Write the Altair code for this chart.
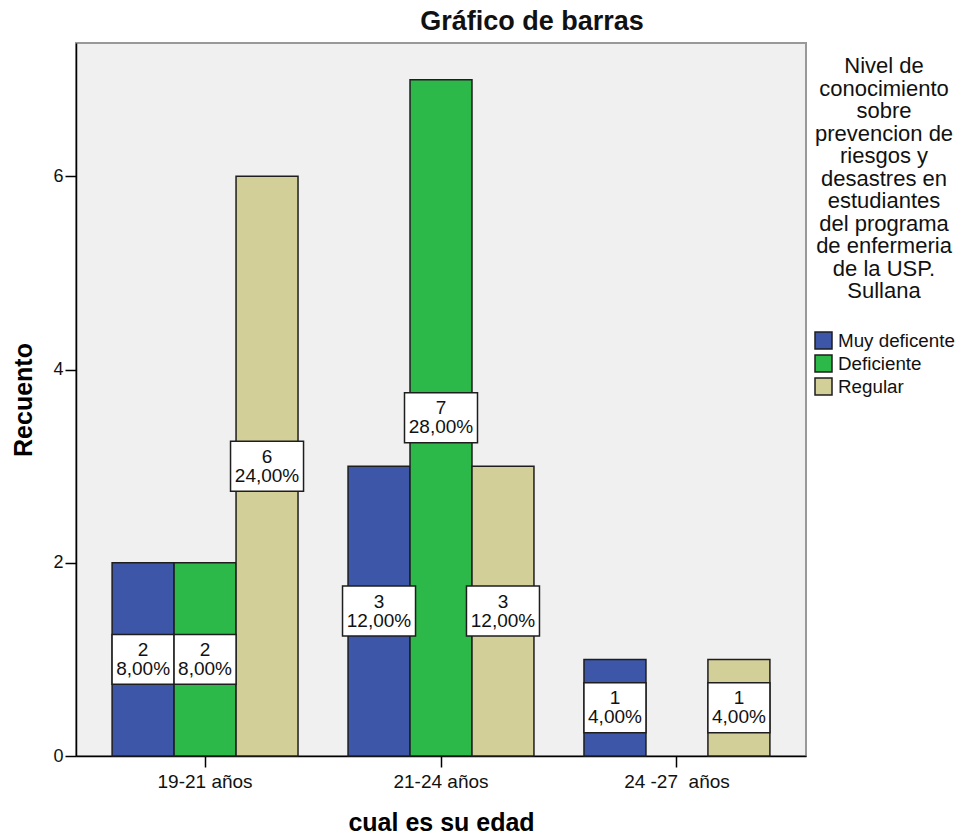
import altair as alt
import pandas as pd

edades = ["19-21 años", "21-24 años", "24 -27\u00a0 años"]
niveles = ["Muy deficente", "Deficiente", "Regular"]
muy_deficente = [2, 3, 1]
deficiente = [2, 7, 0]
regular = [6, 3, 1]
colores = ["#3D56A8", "#2DB84A", "#D3CF98"]
leyenda_titulo = ["Nivel de", "conocimiento", "sobre", "prevencion de", "riesgos y",
                  "desastres en", "estudiantes", "del programa", "de enfermeria",
                  "de la USP.", "Sullana"]

series = [muy_deficente, deficiente, regular]
total = sum(sum(s) for s in series)
rows = []
for i, edad in enumerate(edades):
    for j, nivel in enumerate(niveles):
        n = series[j][i]
        if n == 0:
            continue
        pct = f"{n / total * 100:.2f}".replace(".", ",") + "%"
        rows.append({"edad": edad, "nivel": nivel, "n": n,
                     "label": f"{n}\n{pct}", "wide": len(pct) > 5})
df = pd.DataFrame(rows)

FONT = "Liberation Sans"

base = alt.Chart(df).encode(
    x=alt.X("edad:N", sort=edades,
            scale=alt.Scale(domain=edades, paddingInner=0.212, paddingOuter=0.153),
            axis=alt.Axis(title="cual es su edad", labelAngle=0, labelFontSize=19,
                          labelFont=FONT, labelColor="#111", labelPadding=5,
                          tickSize=11, tickColor="black", tickWidth=1.5,
                          domainColor="black", domainWidth=1.5,
                          titleFontSize=25, titleFont=FONT, titleFontWeight="bold",
                          titleColor="black", titlePadding=19)),
    xOffset=alt.XOffset("nivel:N", scale=alt.Scale(domain=niveles, paddingInner=0, paddingOuter=0)),
)

yscale = alt.Scale(domain=[0, 7.38], nice=False, zero=True)
yaxis = alt.Axis(values=[0, 2, 4, 6], grid=False, title="Recuento",
                 labelFontSize=18, labelFont=FONT, labelColor="#111", labelPadding=2,
                 tickSize=11, tickColor="black", tickWidth=1.5,
                 domainColor="black", domainWidth=1.5,
                 titleFontSize=25, titleFont=FONT, titleFontWeight="bold",
                 titleColor="black", titlePadding=16)

bars = base.mark_bar(stroke="#1e1e1e", strokeWidth=1.5).encode(
    y=alt.Y("n:Q", scale=yscale, axis=yaxis),
    color=alt.Color("nivel:N", scale=alt.Scale(domain=niveles, range=colores),
                    legend=alt.Legend(title=leyenda_titulo, orient="none", legendX=738, legendY=13,
                                      titleAnchor="middle", titleAlign="center",
                                      titleFontSize=22, titleFont=FONT, titleFontWeight="normal",
                                      titleColor="#111", titleLineHeight=22.5, titlePadding=28,
                                      titleLimit=1000, labelLimit=1000,
                                      labelFontSize=18.8, labelFont=FONT, labelColor="#111",
                                      symbolType="square", symbolSize=289,
                                      symbolStrokeColor="#1e1e1e", symbolStrokeWidth=1.5,
                                      rowPadding=0, labelOffset=5,
                                      padding=0)),
)

NARROW = "M-1,-0.806L1,-0.806L1,0.806L-1,0.806Z"
WIDE = "M-1,-0.685L1,-0.685L1,0.685L-1,0.685Z"

boxes_narrow = base.transform_filter("!datum.wide").transform_calculate(yc="datum.n / 2").mark_point(
    shape=NARROW, size=3844, filled=True, fill="white", stroke="#1e1e1e", strokeWidth=1.5, opacity=1
).encode(y=alt.Y("yc:Q", scale=yscale, axis=yaxis))

boxes_wide = base.transform_filter("datum.wide").transform_calculate(yc="datum.n / 2").mark_point(
    shape=WIDE, size=5329, filled=True, fill="white", stroke="#1e1e1e", strokeWidth=1.5, opacity=1
).encode(y=alt.Y("yc:Q", scale=yscale, axis=yaxis))

texts = base.transform_calculate(yc="datum.n / 2").mark_text(
    lineBreak="\n", fontSize=19, font=FONT, lineHeight=19, baseline="middle",
    align="center", color="#111", dy=-9.5
).encode(y=alt.Y("yc:Q", scale=yscale, axis=yaxis), text="label:N")

chart = alt.layer(bars, boxes_narrow, boxes_wide, texts).properties(
    width=730, height=713,
    title=alt.TitleParams("Gráfico de barras", fontSize=27, font=FONT, fontWeight="bold",
                          anchor="middle", dx=91, offset=7, color="#111"),
    autosize=alt.AutoSizeParams(type="none"),
    padding={"left": 68, "top": 35, "right": 149, "bottom": 80},
).configure(
    font=FONT, background="white"
).configure_view(fill="#F0F0F0", stroke="#999", strokeWidth=2)

chart.save("out.html", embed_options={"renderer": "svg", "actions": False})
